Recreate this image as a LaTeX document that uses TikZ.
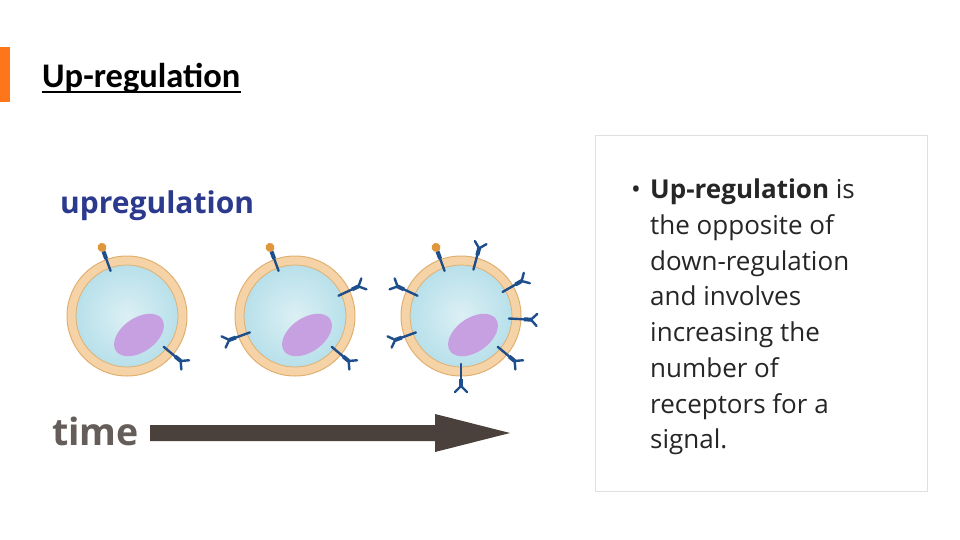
\documentclass[tikz,border=0pt]{standalone}
\usepackage{fontspec}
\setmainfont{Open Sans}
\newfontfamily\carl{Carlito}
\definecolor{memb}{HTML}{F6D3A6}
\definecolor{membedge}{HTML}{E0B070}
\definecolor{cyto}{HTML}{B8E0EA}
\definecolor{nuc}{HTML}{C6A0E0}
\definecolor{rec}{HTML}{1F4E8C}
\definecolor{lig}{HTML}{E0963A}
\definecolor{arr}{HTML}{4A403C}
\definecolor{upblue}{HTML}{2B3A8C}
\tikzset{
  bodytxt/.style={anchor=base west,inner sep=0pt,font=\fontsize{26}{30}\selectfont,text=black!85},
  recpt/.style={rec,line width=2.4pt,line cap=round},
}
\newcommand{\cellat}[3]{%
  \begin{scope}[shift={(#1,#2)}]
    \fill[memb,draw=membedge,line width=1pt] (0,0) circle (60);
    \shade[inner color=cyto!50!white,outer color=cyto,draw=membedge,line width=0.8pt] (0,0) circle (51);
    \fill[nuc] (12,19) ellipse [x radius=28,y radius=17,rotate=35];
    \foreach \a in {#3} {
      \begin{scope}[rotate=\a]
        \draw[recpt] (48,0) -- (64,0);
        \draw[recpt,line width=4pt,line cap=butt] (63,0) -- (70,0);
        \draw[recpt] (70,0) -- (76,-6) (70,0) -- (76,6);
      \end{scope}
    }
  \end{scope}}
\begin{document}
\begin{tikzpicture}[x=1pt,y=-1pt]
\useasboundingbox (0,0) rectangle (960,540);
\fill[white] (0,0) rectangle (960,540);
\fill[orange!80!red!90] (0,47) rectangle (10,102);
\node[anchor=base west,inner sep=0pt,font=\carl\bfseries\fontsize{34.5}{38}\selectfont] (title) at (42,88) {Up-regulation};
\draw[line width=1.5pt] (title.base west) ++(0,4) -- ([yshift=-4pt]title.base east);
\node[anchor=base west,inner sep=0pt,font=\bfseries\fontsize{30}{32}\selectfont,text=upblue] (up) at (60,213) {upregulation};
\cellat{127}{316}{-40}
\cellat{295}{316}{25,200,-40}
\cellat{461}{316}{75,30,-3,-40,-90,200,155}
\foreach \cx in {127,295,461} {
  \begin{scope}[shift={(\cx,316)},rotate=110]
    \draw[recpt] (48,0) -- (64,0);
    \draw[recpt,line width=4pt,line cap=butt] (61,0) -- (69,0);
    \fill[lig] (73,0) circle (4.5);
  \end{scope}
}
\node[anchor=base west,inner sep=0pt,font=\bfseries\fontsize{37.5}{40}\selectfont,text=arr!85] (time) at (52,445) {time};
\fill[arr] (150,425) -- (435,425) -- (435,414) -- (510,433) -- (435,452) -- (435,441) -- (150,441) -- cycle;
\draw[black!12,line width=1pt] (595,136) rectangle (927,491);
\node[bodytxt] (b) at (631,198) {•};
\node[bodytxt] (l1) at (650,198) {\textbf{Up-regulation} is};
\node[bodytxt] (l2) at (650,234) {the opposite of};
\node[bodytxt] (l3) at (650,270) {down-regulation};
\node[bodytxt] (l4) at (650,305) {and involves};
\node[bodytxt] (l5) at (650,341) {increasing the};
\node[bodytxt] (l6) at (650,377) {number of};
\node[bodytxt] (l7) at (650,413) {receptors for a};
\node[bodytxt] (l8) at (650,448) {signal.};
\end{tikzpicture}
\end{document}
